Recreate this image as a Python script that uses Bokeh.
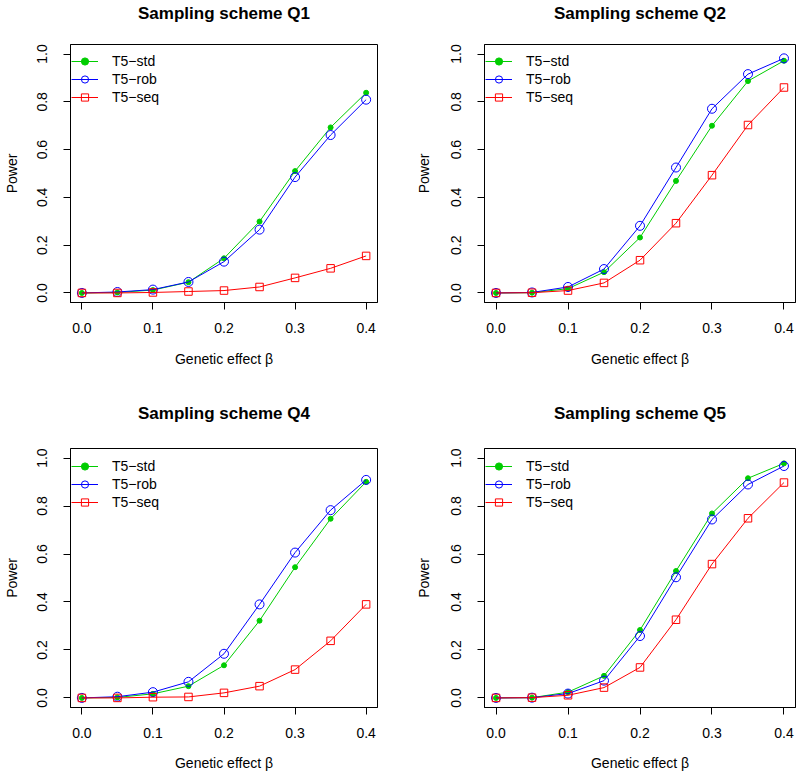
from bokeh.plotting import figure
from bokeh.layouts import gridplot
from bokeh.models import Range1d, FixedTicker, Legend, LegendItem, Title
from bokeh.embed import file_html
from bokeh.resources import INLINE

beta = [0.0, 0.05, 0.10, 0.15, 0.20, 0.25, 0.30, 0.35, 0.40]
x_ticks = [0.0, 0.1, 0.2, 0.3, 0.4]
x_tick_labels = ["0.0", "0.1", "0.2", "0.3", "0.4"]
y_ticks = [0.0, 0.2, 0.4, 0.6, 0.8, 1.0]
y_tick_labels = ["0.0", "0.2", "0.4", "0.6", "0.8", "1.0"]

series_names = ["T5\u2212std", "T5\u2212rob", "T5\u2212seq"]

q1_std = [0.0, 0.002, 0.012, 0.045, 0.145, 0.299, 0.510, 0.693, 0.838]
q1_rob = [0.0, 0.004, 0.014, 0.046, 0.131, 0.265, 0.485, 0.661, 0.809]
q1_seq = [0.0, 0.0, 0.002, 0.006, 0.010, 0.025, 0.063, 0.103, 0.155]

q2_std = [0.0, 0.001, 0.018, 0.087, 0.232, 0.469, 0.700, 0.887, 0.972]
q2_rob = [0.0, 0.002, 0.025, 0.100, 0.281, 0.525, 0.771, 0.916, 0.982]
q2_seq = [0.0, 0.001, 0.010, 0.042, 0.137, 0.292, 0.493, 0.703, 0.860]

q4_std = [0.0, 0.002, 0.017, 0.049, 0.136, 0.322, 0.545, 0.747, 0.901]
q4_rob = [0.0, 0.005, 0.024, 0.067, 0.184, 0.390, 0.606, 0.783, 0.909]
q4_seq = [0.0, 0.0, 0.003, 0.004, 0.021, 0.049, 0.118, 0.238, 0.390]

q5_std = [0.0, 0.001, 0.024, 0.092, 0.283, 0.529, 0.769, 0.916, 0.978]
q5_rob = [0.0, 0.001, 0.018, 0.072, 0.258, 0.503, 0.744, 0.890, 0.967]
q5_seq = [0.0, 0.001, 0.011, 0.043, 0.127, 0.326, 0.558, 0.749, 0.898]

titles = ["Sampling scheme Q1", "Sampling scheme Q2", "Sampling scheme Q4", "Sampling scheme Q5"]

GREEN = "#00CD00"
BLUE = "#0000FF"
RED = "#FF0000"
FONT = "Liberation Sans"


def make_panel(title, std, rob, seq, w, h, bl, br, bt, bb,
               title_gap, ylab_standoff, xlab_standoff, legend_y):
    p = figure(width=w, height=h,
               x_range=Range1d(-0.016, 0.416), y_range=Range1d(-0.04, 1.04),
               output_backend="svg", toolbar_location=None,
               min_border_left=bl, min_border_right=br,
               min_border_top=bt, min_border_bottom=bb,
               title=None)

    # invisible spacer between the frame and the title
    p.add_layout(Title(text=" ", text_font_size="1px", standoff=title_gap), "above")
    p.add_layout(Title(text=title, align="center", text_font=FONT, text_font_size="17px",
                       text_font_style="bold", text_color="black", standoff=0), "above")

    p.grid.visible = False
    p.outline_line_color = "black"
    p.outline_line_width = 1
    p.background_fill_color = "white"
    p.border_fill_color = "white"

    p.xaxis.ticker = FixedTicker(ticks=x_ticks)
    p.xaxis.major_label_overrides = dict(zip(x_ticks, x_tick_labels))
    p.yaxis.ticker = FixedTicker(ticks=y_ticks)
    p.yaxis.major_label_overrides = dict(zip(y_ticks, y_tick_labels))
    p.yaxis.major_label_orientation = "vertical"

    for ax in (p.xaxis[0], p.yaxis[0]):
        ax.minor_tick_line_color = None
        ax.major_tick_in = 0
        ax.major_tick_out = 7
        ax.major_tick_line_color = "black"
        ax.axis_line_color = "black"
        ax.major_label_text_font = FONT
        ax.major_label_text_font_size = "14px"
        ax.major_label_text_color = "black"
        ax.axis_label_text_font = FONT
        ax.axis_label_text_font_size = "14px"
        ax.axis_label_text_font_style = "normal"
        ax.axis_label_text_color = "black"

    p.xaxis.major_label_standoff = 13
    p.yaxis.major_label_standoff = 16
    p.xaxis.axis_label = "Genetic effect \u03b2"
    p.yaxis.axis_label = "Power"
    p.xaxis.axis_label_standoff = xlab_standoff
    p.yaxis.axis_label_standoff = ylab_standoff

    l1 = p.line(beta, std, line_color=GREEN, line_width=1)
    s1 = p.scatter(beta, std, marker="circle", size=5, fill_color=GREEN, line_color=GREEN)
    l2 = p.line(beta, rob, line_color=BLUE, line_width=1)
    s2 = p.scatter(beta, rob, marker="circle", size=9, fill_color=None, line_color=BLUE, line_width=1)
    l3 = p.line(beta, seq, line_color=RED, line_width=1)
    s3 = p.scatter(beta, seq, marker="square", size=7.5, fill_color=None, line_color=RED, line_width=1)

    legend = Legend(items=[
        LegendItem(label=series_names[0], renderers=[l1, s1]),
        LegendItem(label=series_names[1], renderers=[l2, s2]),
        LegendItem(label=series_names[2], renderers=[l3, s3]),
    ])
    legend.location = (1, legend_y)
    legend.margin = 0
    legend.padding = 0
    legend.spacing = 0
    legend.glyph_width = 27
    legend.glyph_height = 18
    legend.label_height = 18
    legend.label_standoff = 14
    legend.label_text_font = FONT
    legend.label_text_font_size = "14px"
    legend.label_text_color = "black"
    legend.border_line_color = None
    legend.background_fill_alpha = 0
    p.add_layout(legend)
    return p


p1 = make_panel(titles[0], q1_std, q1_rob, q1_seq, 398, 386, 66, 21, 44, 84, 19, 15, 15, 196)
p2 = make_panel(titles[1], q2_std, q2_rob, q2_seq, 398, 386, 86, 1, 44, 84, 19, 17, 15, 196)
p3 = make_panel(titles[2], q4_std, q4_rob, q4_seq, 398, 387, 66, 21, 62, 66, 23, 15, 14, 196)
p4 = make_panel(titles[3], q5_std, q5_rob, q5_seq, 398, 387, 86, 1, 62, 66, 23, 17, 14, 196)

layout = gridplot([[p1, p2], [p3, p4]], toolbar_location=None)

open("out.html", "w").write(file_html(layout, INLINE))
